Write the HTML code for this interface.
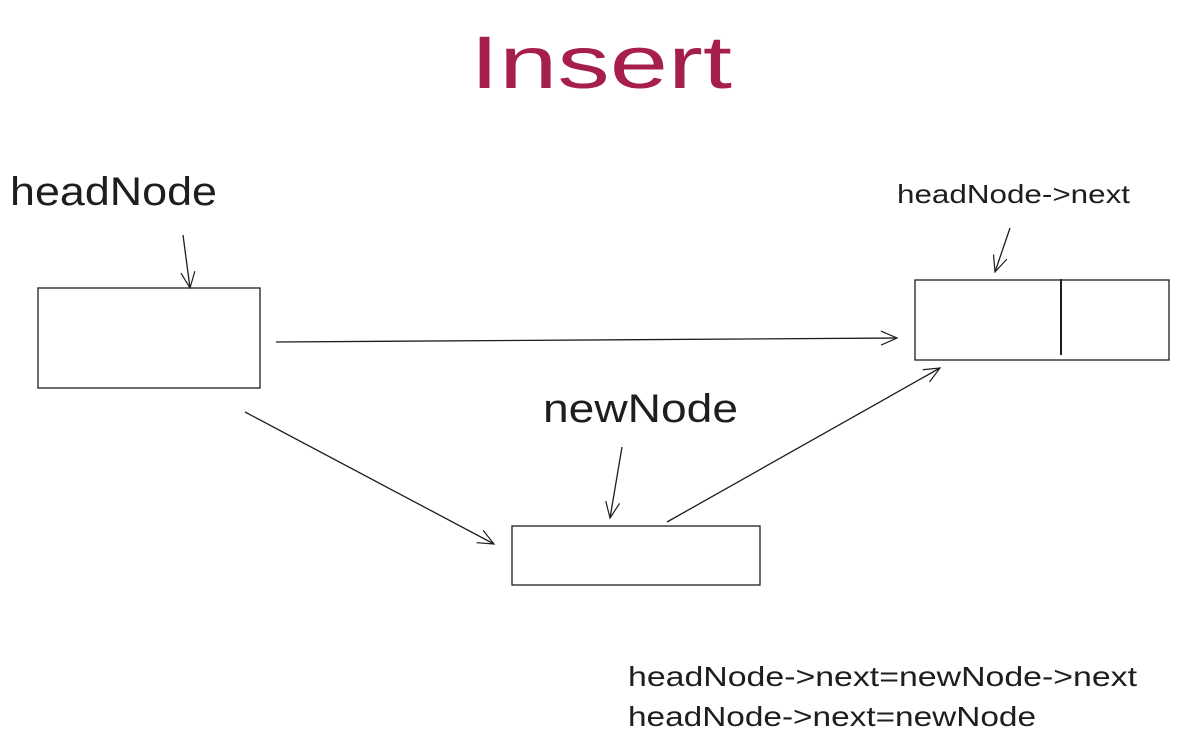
<!DOCTYPE html>
<html>
<head>
<meta charset="utf-8">
<style>
html,body{margin:0;padding:0;background:#fff;}
svg{display:block;}
text{font-family:"Liberation Sans",sans-serif;fill:#1e1e1e;}
</style>
</head>
<body>
<svg width="1179" height="749" viewBox="0 0 1179 749" xmlns="http://www.w3.org/2000/svg">
<defs>
<marker id="ah" markerWidth="20" markerHeight="20" refX="18" refY="10" orient="auto" markerUnits="userSpaceOnUse">
<path d="M2,3 L18,10 L2,17" fill="none" stroke="#1e1e1e" stroke-width="1.2"/>
</marker>
</defs>
<text x="470" y="88" font-size="74" textLength="262" lengthAdjust="spacingAndGlyphs" style="fill:#a61e4d">Insert</text>

<text x="10" y="205" font-size="40" textLength="207" lengthAdjust="spacingAndGlyphs">headNode</text>
<text x="897" y="203" font-size="26" textLength="233" lengthAdjust="spacingAndGlyphs">headNode-&gt;next</text>
<text x="543" y="422" font-size="40" textLength="195" lengthAdjust="spacingAndGlyphs">newNode</text>
<text x="628" y="686" font-size="28" textLength="509" lengthAdjust="spacingAndGlyphs">headNode-&gt;next=newNode-&gt;next</text>
<text x="628" y="726" font-size="28" textLength="408" lengthAdjust="spacingAndGlyphs">headNode-&gt;next=newNode</text>

<g fill="none" stroke="#1e1e1e" stroke-width="1.3">
<rect x="38" y="288" width="222" height="100"/>
<rect x="915" y="280" width="254" height="80"/>
<line x1="1061" y1="279" x2="1061" y2="355" stroke-width="2"/>
<rect x="512" y="526" width="248" height="59"/>

<line x1="183" y1="235" x2="190" y2="288" marker-end="url(#ah)"/>
<line x1="276" y1="342" x2="897" y2="338" marker-end="url(#ah)"/>
<line x1="245" y1="412" x2="494" y2="544" marker-end="url(#ah)"/>
<line x1="667" y1="522" x2="940" y2="368" marker-end="url(#ah)"/>
<line x1="1010" y1="228" x2="995" y2="272" marker-end="url(#ah)"/>
<line x1="622" y1="447" x2="610" y2="518" marker-end="url(#ah)"/>
</g>
</svg>
</body>
</html>
